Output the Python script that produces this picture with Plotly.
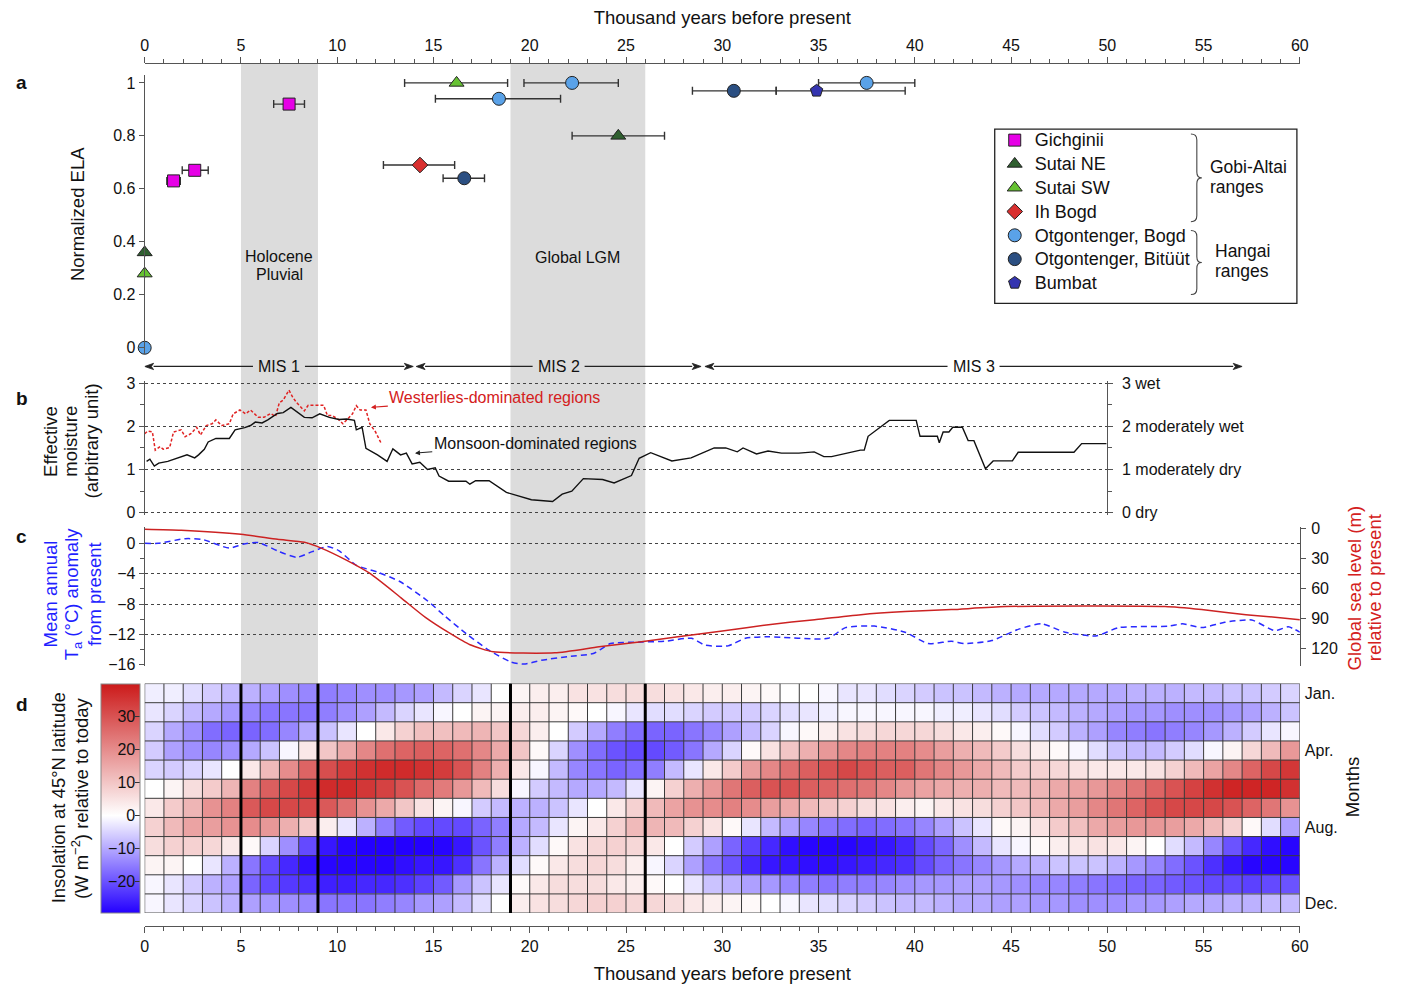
import plotly.graph_objects as go

W, H = 1401, 989
FONT = "Liberation Sans, Arial, sans-serif"


def fx(px):
    return px / W


def fy(py):
    return 1 - py / H


# ---------------- data ----------------
# Panel a: normalized ELA (x = kyr BP, y = normalized ELA, asymmetric x errors)
GICH_X = [1.5, 2.6, 7.5]
GICH_Y = [0.63, 0.67, 0.92]
GICH_EM = [0.35, 0.65, 0.8]
GICH_EP = [0.35, 0.7, 0.8]

SUTAI_NE_X = [0, 24.6]
SUTAI_NE_Y = [0.36, 0.80]
SUTAI_NE_EM = [0, 2.4]
SUTAI_NE_EP = [0, 2.4]

SUTAI_SW_X = [0, 16.2]
SUTAI_SW_Y = [0.28, 1.0]
SUTAI_SW_EM = [0, 2.7]
SUTAI_SW_EP = [0, 2.65]

IHBOGD_X = [14.3]
IHBOGD_Y = [0.69]
IHBOGD_EM = [1.9]
IHBOGD_EP = [1.8]

OTG_BOGD_X = [0, 18.4, 22.2, 37.5]
OTG_BOGD_Y = [0, 0.94, 1.0, 1.0]
OTG_BOGD_EM = [0, 3.3, 2.5, 2.5]
OTG_BOGD_EP = [0, 3.2, 2.4, 2.5]

OTG_BIT_X = [16.6, 30.6]
OTG_BIT_Y = [0.64, 0.97]
OTG_BIT_EM = [1.1, 2.15]
OTG_BIT_EP = [1.05, 2.2]

BUMBAT_X = [34.9]
BUMBAT_Y = [0.97]
BUMBAT_EM = [2.1]
BUMBAT_EP = [4.6]

# Panel b: effective moisture
MONSOON_KYR = [0.1, 0.27, 0.5, 0.73, 1.2, 1.9, 2.2, 2.6, 2.8, 3.1, 3.3, 3.7, 4.4, 4.7, 5.2, 5.5,
               5.75, 6.1, 6.4, 6.9, 7.2, 7.6, 7.85, 8.3, 8.7, 9.1, 9.6, 10.1, 10.5, 10.9, 11.0,
               11.3, 11.5, 12.1, 12.6, 12.9, 13.3, 13.6, 13.9, 14.3, 14.7, 15.1, 15.3, 15.8, 16.7,
               16.9, 17.2, 17.9, 18.8, 20.1, 21.2, 21.7, 22.2, 22.8, 23.8, 24.4, 25.3, 25.7, 26.3,
               27.4, 28.4, 29.6, 30.2, 30.8, 31.1, 31.8, 32.4, 33.1, 34.0, 34.8, 35.3, 35.7, 37.2,
               37.4, 37.6, 38.7, 40.1, 40.3, 41.2, 41.3, 41.5, 41.8, 42.0, 42.5, 42.8, 43.1, 43.7,
               44.1, 45.1, 45.4, 48.3, 48.7, 50.0]
MONSOON_EM = [1.19, 1.24, 1.08, 1.15, 1.19, 1.29, 1.34, 1.27, 1.34, 1.47, 1.64, 1.72, 1.72, 1.92,
              1.97, 2.02, 2.1, 2.08, 2.15, 2.3, 2.32, 2.44, 2.36, 2.21, 2.2, 2.29, 2.21, 2.16, 2.17,
              2.14, 1.92, 1.98, 1.49, 1.34, 1.19, 1.48, 1.34, 1.38, 1.13, 1.17, 1.0, 1.04, 0.85,
              0.73, 0.73, 0.66, 0.74, 0.74, 0.47, 0.3, 0.26, 0.43, 0.5, 0.79, 0.77, 0.69, 0.86,
              1.26, 1.39, 1.2, 1.27, 1.5, 1.5, 1.41, 1.5, 1.36, 1.43, 1.38, 1.38, 1.41, 1.3, 1.3,
              1.45, 1.45, 1.77, 2.14, 2.14, 1.77, 1.77, 1.62, 1.87, 1.87, 1.98, 1.98, 1.67, 1.67,
              1.02, 1.2, 1.2, 1.4, 1.4, 1.6, 1.6]

WEST_KYR = [0, 0.15, 0.4, 0.55, 0.8, 0.96, 1.3, 1.5, 1.9, 2.1, 2.4, 2.7, 2.9, 3.2, 3.5, 3.7, 4.0,
            4.4, 4.6, 4.95, 5.25, 5.5, 5.9, 6.2, 6.55, 6.8, 7.0, 7.2, 7.5, 7.7, 7.9, 8.3, 8.5, 9.3,
            9.5, 9.75, 10.1, 10.3, 10.5, 10.8, 11.0, 11.2, 11.5, 11.7, 12.0, 12.3]
WEST_EM = [1.83, 1.89, 1.87, 1.45, 1.53, 1.47, 1.51, 1.87, 1.92, 1.76, 1.83, 1.98, 1.8, 2.02, 2.06,
           2.15, 2.02, 2.06, 2.29, 2.38, 2.29, 2.38, 2.21, 2.21, 2.3, 2.23, 2.55, 2.61, 2.84, 2.67,
           2.55, 2.36, 2.49, 2.49, 2.25, 2.25, 2.15, 2.06, 2.15, 2.29, 2.48, 2.38, 2.38, 2.06, 1.87,
           1.6]

MOIST_TICKS = [0, 1, 2, 3]
MOIST_LABELS = ["0 dry", "1 moderately dry", "2 moderately wet", "3 wet"]

# Panel c: temperature anomaly and sea level
TEMP_KYR = [0, 0.7, 2.1, 3.0, 4.4, 5.1, 5.9, 6.9, 7.9, 8.7, 9.5, 10.1, 11.0, 12.1, 13.3, 14.7, 15.6,
            16.7, 17.9, 19.0, 19.7, 20.6, 22.0, 23.3, 24.2, 25.8, 27.0, 28.4, 29.1, 30.3, 31.2, 32.4,
            35.5, 36.4, 37.9, 39.5, 40.7, 41.9, 42.6, 44.0, 45.4, 46.6, 47.8, 49.4, 50.6, 53.2,
            53.9, 54.9, 56.1, 57.5, 58.7, 59.4, 60.0]
TEMP_ANOM = [0, 0, 0.6, 0.5, -0.64, -0.13, 0.09, -1.0, -1.85, -1.1, -0.43, -1.0, -2.9, -3.8, -5.1,
             -7.6, -9.6, -11.9, -14.1, -15.6, -15.9, -15.4, -14.9, -14.5, -13.2, -13.0, -12.9,
             -12.5, -13.4, -13.5, -12.5, -12.3, -12.5, -11.1, -10.9, -11.7, -13.2, -12.9, -13.2,
             -12.8, -11.3, -10.6, -11.7, -12.2, -11.1, -10.9, -10.6, -11.1, -10.4, -10.1, -11.5,
             -11.0, -11.7]

SEA_KYR = [0, 1.9, 5.0, 6.9, 8.3, 9.2, 10.5, 11.7, 13.3, 14.6, 15.8, 16.9, 18.1, 21.3, 23.6, 25.8,
           27.7, 30.1, 32.4, 34.8, 37.2, 39.5, 41.9, 44.7, 53.0, 54.9, 57.2, 60.0]
SEA_LEVEL = [1, 2, 6, 11, 14, 20, 32, 45, 69, 89, 104, 116, 123, 124, 118, 113, 108, 102, 96, 91,
             86, 83, 81, 78, 78, 81, 86, 91]

# Panel d: insolation anomaly at 45N (W m-2), one value per kyr bin (0-1, 1-2, ... 59-60)
INSOL_JAN = [-2, -2, -4, -6, -8, -9, -11, -13, -14, -15, -14, -13, -13, -12, -11,
             -8, -5, -3, 0, 2, 3, 3, 5, 5, 6, 6, 6, 5, 4, 3,
             3, 2, 1, 0, 0, -1, -3, -3, -4, -5, -6, -7, -7, -8, -9,
             -10, -10, -10, -10, -10, -10, -9, -9, -9, -8, -8, -7, -7, -6, -5]
INSOL_FEB = [-3, -5, -8, -10, -12, -14, -16, -16, -16, -15, -13, -11, -8, -5, -3,
             -1, 0, 2, 2, 3, 3, 2, 1, 0, -1, -3, -4, -4, -5, -6,
             -6, -6, -5, -4, -3, -2, -1, -1, -1, -1, -1, -2, -2, -3, -4,
             -6, -7, -8, -9, -10, -11, -12, -12, -13, -13, -13, -12, -11, -9, -7]
INSOL_MAR = [-5, -10, -13, -17, -18, -18, -17, -14, -10, -7, -3, 0, 4, 8, 11,
             11, 12, 13, 10, 7, 3, 0, -6, -10, -15, -17, -18, -18, -16, -14,
             -11, -8, -5, -1, 1, 3, 5, 6, 7, 7, 7, 6, 4, 3, 1,
             -1, -4, -6, -9, -11, -14, -15, -16, -15, -14, -12, -9, -6, -3, -1]
INSOL_APR = [-6, -11, -13, -14, -13, -10, -7, -1, 4, 10, 15, 21, 25, 27, 28,
             27, 25, 21, 15, 10, 1, -5, -13, -17, -20, -21, -21, -19, -16, -10,
             -5, 1, 5, 10, 14, 18, 21, 22, 22, 22, 20, 17, 14, 12, 9,
             6, 3, 1, -1, -4, -7, -8, -8, -6, -4, -1, 2, 7, 12, 18]
INSOL_MAY = [-5, -6, -5, -3, 0, 4, 12, 20, 27, 31, 34, 36, 37, 37, 36,
             34, 30, 22, 14, 4, -1, -8, -14, -16, -18, -17, -15, -8, -3, 4,
             9, 17, 21, 25, 28, 30, 32, 30, 28, 28, 24, 21, 18, 15, 12,
             9, 8, 7, 5, 4, 4, 4, 5, 8, 12, 16, 21, 27, 32, 35]
INSOL_JUN = [0, 2, 6, 9, 13, 22, 28, 32, 35, 37, 37, 35, 33, 30, 26,
             23, 18, 12, 6, -1, -6, -8, -10, -10, -8, -3, 2, 8, 14, 18,
             24, 28, 30, 30, 28, 27, 25, 24, 21, 18, 16, 15, 14, 14, 12,
             12, 13, 15, 16, 18, 21, 24, 27, 30, 33, 36, 38, 38, 38, 36]
INSOL_JUL = [4, 9, 13, 19, 22, 29, 32, 32, 32, 29, 25, 19, 15, 10, 5,
             2, -1, -6, -8, -9, -9, -7, -3, 0, 4, 8, 12, 16, 19, 20,
             22, 20, 17, 15, 12, 10, 8, 6, 5, 3, 2, 4, 5, 6, 8,
             10, 12, 15, 17, 21, 24, 27, 30, 32, 32, 32, 30, 27, 24, 19]
INSOL_AUG = [8, 12, 16, 17, 19, 20, 18, 14, 9, 3, -3, -9, -15, -19, -21,
             -21, -21, -18, -15, -10, -8, -3, 2, 4, 8, 12, 13, 12, 8, 5,
             1, -3, -8, -11, -14, -16, -17, -18, -17, -16, -14, -11, -7, -3, 1,
             2, 5, 9, 11, 15, 17, 18, 18, 17, 15, 12, 8, 1, -4, -11]
INSOL_SEP = [6, 8, 8, 7, 4, 1, -5, -13, -21, -27, -29, -30, -30, -30, -30,
             -29, -27, -20, -15, -9, -4, 1, 5, 7, 8, 7, 4, 0, -6, -11,
             -18, -22, -25, -28, -29, -29, -29, -28, -27, -25, -21, -18, -13, -8, -3,
             -1, 1, 3, 4, 5, 4, 2, 0, -4, -8, -14, -20, -25, -28, -29]
INSOL_OCT = [2, 2, 0, -3, -9, -16, -21, -25, -28, -29, -29, -29, -29, -28, -27,
             -27, -24, -16, -9, -4, 1, 4, 6, 7, 6, 3, -1, -5, -11, -16,
             -20, -25, -27, -27, -28, -28, -27, -26, -25, -24, -21, -18, -16, -14, -12,
             -10, -9, -7, -7, -7, -9, -12, -14, -17, -20, -24, -27, -29, -29, -29]
INSOL_NOV = [-1, -3, -6, -9, -11, -18, -21, -23, -24, -26, -26, -25, -25, -24, -22,
             -19, -12, -7, -3, 1, 4, 6, 6, 6, 4, 3, 1, 0, -3, -7,
             -9, -11, -12, -14, -15, -16, -15, -15, -14, -13, -12, -12, -11, -11, -12,
             -13, -14, -14, -15, -16, -17, -18, -18, -19, -20, -21, -21, -22, -21, -20]
INSOL_DEC = [-1, -3, -5, -7, -9, -11, -12, -13, -14, -16, -16, -16, -15, -14, -12,
             -11, -8, -4, 0, 3, 5, 6, 7, 8, 8, 7, 7, 6, 4, 3,
             2, 1, 0, -1, -3, -4, -5, -6, -7, -8, -8, -9, -10, -10, -11,
             -11, -12, -12, -13, -13, -13, -12, -12, -11, -10, -10, -9, -9, -8, -8]
MONTH_TICKS = [0, 3, 7, 11]
MONTH_LABELS = ["Jan.", "Apr.", "Aug.", "Dec."]
CBAR_TICKS = [-20, -10, 0, 10, 20, 30]

# Periods
BANDS = [(5, 9), (19, 26)]          # Holocene Pluvial, Global LGM
PERIOD_BOUNDS = [5, 9, 19, 26]
MIS_NAMES = ["MIS 1", "MIS 2", "MIS 3"]
MIS_START = [0, 14.1, 29.1]
MIS_END = [13.95, 28.9, 57.0]

# ---------------- figure ----------------
fig = go.Figure()

err_style = dict(type="data", symmetric=False, color="#333333", thickness=1.4, width=4)
LEG_FS = 18


def ela_trace(name, xs, ys, em, ep, symbol, color, size=13):
    return go.Scatter(
        x=xs, y=ys, name=f'<span style="font-size:{LEG_FS}px">{name}</span>',
        mode="markers", xaxis="x", yaxis="y",
        marker=dict(symbol=symbol, size=size, color=color, line=dict(color="#222222", width=1)),
        error_x=dict(array=ep, arrayminus=em, **err_style),
        cliponaxis=False, hoverinfo="skip",
    )


fig.add_trace(ela_trace("Gichginii", GICH_X, GICH_Y, GICH_EM, GICH_EP, "square", "#e600e6", 12))
fig.add_trace(ela_trace("Sutai NE", SUTAI_NE_X, SUTAI_NE_Y, SUTAI_NE_EM, SUTAI_NE_EP, "triangle-up", "#2f5f2f"))
fig.add_trace(ela_trace("Sutai SW", SUTAI_SW_X, SUTAI_SW_Y, SUTAI_SW_EM, SUTAI_SW_EP, "triangle-up", "#66c232"))
fig.add_trace(ela_trace("Ih Bogd", IHBOGD_X, IHBOGD_Y, IHBOGD_EM, IHBOGD_EP, "diamond", "#d93030", 12))
fig.add_trace(ela_trace("Otgontenger, Bogd", OTG_BOGD_X, OTG_BOGD_Y, OTG_BOGD_EM, OTG_BOGD_EP, "circle", "#5aa2e8"))
fig.add_trace(ela_trace("Otgontenger, Bitüüt", OTG_BIT_X, OTG_BIT_Y, OTG_BIT_EM, OTG_BIT_EP, "circle", "#2b4f82"))
fig.add_trace(ela_trace("Bumbat", BUMBAT_X, BUMBAT_Y, BUMBAT_EM, BUMBAT_EP, "pentagon", "#3434b0"))

# Panel b
fig.add_trace(go.Scatter(x=WEST_KYR, y=WEST_EM, mode="lines", xaxis="x2", yaxis="y2",
                         line=dict(color="#e02222", width=1.5, dash="3px,2px"),
                         showlegend=False, hoverinfo="skip"))
fig.add_trace(go.Scatter(x=MONSOON_KYR, y=MONSOON_EM, mode="lines", xaxis="x2", yaxis="y3",
                         line=dict(color="#111111", width=1.4), showlegend=False, hoverinfo="skip"))

# Panel c
fig.add_trace(go.Scatter(x=SEA_KYR, y=SEA_LEVEL, mode="lines", xaxis="x3", yaxis="y5",
                         line=dict(color="#cc2222", width=1.5, shape="spline", smoothing=0.6),
                         showlegend=False, hoverinfo="skip"))
fig.add_trace(go.Scatter(x=TEMP_KYR, y=TEMP_ANOM, mode="lines", xaxis="x3", yaxis="y4",
                         line=dict(color="#2a2aff", width=1.5, dash="6px,4px", shape="spline", smoothing=0.6),
                         showlegend=False, hoverinfo="skip"))

# Panel d heatmap
Z = [INSOL_JAN, INSOL_FEB, INSOL_MAR, INSOL_APR, INSOL_MAY, INSOL_JUN,
     INSOL_JUL, INSOL_AUG, INSOL_SEP, INSOL_OCT, INSOL_NOV, INSOL_DEC]
ZMIN, ZMAX = -29.6, 40
zero_frac = -ZMIN / (ZMAX - ZMIN)
CB_TOP, CB_BOT, CB_LEFT, CB_W = 687, 920, 98, 38.5
fig.add_trace(go.Heatmap(
    z=Z, x0=0.5, dx=1, y0=0, dy=1, xaxis="x4", yaxis="y6",
    zmin=ZMIN, zmax=ZMAX,
    colorscale=[[0, "#2400ff"], [zero_frac, "#ffffff"], [1, "#cc1a1a"]],
    showscale=True, hoverinfo="skip",
    colorbar=dict(x=fx(CB_LEFT), xanchor="left", xpad=0, ypad=0,
                  y=fy((CB_TOP + CB_BOT) / 2), yanchor="middle", len=(CB_BOT - CB_TOP) / H,
                  lenmode="fraction", thickness=CB_W, thicknessmode="pixels",
                  tickvals=CBAR_TICKS, ticks="inside", ticklen=5,
                  tickcolor="#333333", ticklabelposition="inside",
                  tickfont=dict(size=16, color="#111111", family=FONT),
                  outlinewidth=1, outlinecolor="#888888"),
))

# cell borders
n_cols = len(INSOL_JAN)
n_rows = len(Z)
gx, gy = [], []
for i in range(n_cols + 1):
    gx += [i, i, None]
    gy += [-0.5, n_rows - 0.5, None]
for j in range(n_rows + 1):
    gx += [0, n_cols, None]
    gy += [j - 0.5, j - 0.5, None]
fig.add_trace(go.Scatter(x=gx, y=gy, mode="lines", xaxis="x4", yaxis="y6",
                         line=dict(color="#3a3a3a", width=1), showlegend=False,
                         hoverinfo="skip", cliponaxis=False))
bx, by = [], []
for b in PERIOD_BOUNDS:
    bx += [b, b, None]
    by += [-0.5, n_rows - 0.5, None]
fig.add_trace(go.Scatter(x=bx, y=by, mode="lines", xaxis="x4", yaxis="y6",
                         line=dict(color="#000000", width=3), showlegend=False,
                         hoverinfo="skip", cliponaxis=False))

# ---------------- layout ----------------
XDOM = [fx(142), fx(1308)]
AXC = "#555555"
tickfont = dict(size=16, color="#111111", family=FONT)
TITLE_FS = 18.5

common_y = dict(showline=True, linecolor=AXC, linewidth=1.2, ticks="outside", ticklen=5,
                tickcolor=AXC, zeroline=False, tickfont=tickfont)

fig.update_layout(
    width=W, height=H, margin=dict(l=0, r=0, t=0, b=0),
    paper_bgcolor="white", plot_bgcolor="rgba(0,0,0,0)",
    font=dict(family=FONT, color="#111111"),
    showlegend=True,
    legend=dict(x=fx(1000), y=fy(118), xanchor="left", yanchor="top",
                bgcolor="rgba(0,0,0,0)", borderwidth=0,
                font=dict(size=16, family=FONT, color="#111111"),
                tracegroupgap=0, itemclick=False),
    xaxis=dict(domain=XDOM, range=[0, 60], anchor="free", position=fy(57), side="top",
               showline=True, linecolor=AXC, linewidth=1.2, ticks="outside", ticklen=6,
               tickcolor=AXC, dtick=5, tick0=0, tickfont=tickfont, showgrid=False, zeroline=False,
               minor=dict(dtick=1, ticks="outside", ticklen=4, tickcolor=AXC),
               title=dict(text="Thousand years before present", font=dict(size=TITLE_FS), standoff=6)),
    yaxis=dict(domain=[fy(352), fy(69)], range=[-0.0223, 1.03], anchor="x",
               tickvals=[0, 0.2, 0.4, 0.6, 0.8, 1], ticktext=["0", "0.2", "0.4", "0.6", "0.8", "1"],
               showgrid=False, **common_y),
    xaxis2=dict(domain=[fx(142), fx(1113)], range=[0, 50], anchor="y2", showline=False,
                showticklabels=False, ticks="", showgrid=False, zeroline=False),
    yaxis2=dict(domain=[fy(516.1), fy(379.4)], range=[-0.06, 3.06], anchor="x2",
                tickvals=MOIST_TICKS, showgrid=True, gridcolor="#444444", griddash="dot",
                gridwidth=1, minor=dict(tickvals=[0.5, 1.5, 2.5], ticks="outside", ticklen=4,
                                        tickcolor=AXC), **common_y),
    yaxis3=dict(overlaying="y2", side="right", anchor="x2", range=[-0.06, 3.06],
                tickvals=MOIST_TICKS, ticktext=MOIST_LABELS, showgrid=False,
                ticklabelstandoff=6,
                minor=dict(tickvals=[0.5, 1.5, 2.5], ticks="outside", ticklen=4, tickcolor=AXC),
                **common_y),
    xaxis3=dict(domain=XDOM, range=[0, 60], anchor="y4", showline=False,
                showticklabels=False, ticks="", showgrid=False, zeroline=False),
    yaxis4=dict(domain=[fy(669), fy(528)], range=[-16.13, 2.14], anchor="x3",
                tickvals=[0, -4, -8, -12, -16], showgrid=True, gridcolor="#444444",
                griddash="dot", gridwidth=1,
                minor=dict(tickvals=[-2, -6, -10, -14], ticks="outside", ticklen=4, tickcolor=AXC),
                **common_y),
    yaxis5=dict(overlaying="y4", side="right", anchor="x3", range=[137, -1.27],
                tickvals=[0, 30, 60, 90, 120], showgrid=False, ticklabelstandoff=2, **common_y),
    xaxis4=dict(domain=XDOM, range=[0, 60], anchor="free", position=fy(933), side="bottom",
                showline=True, linecolor=AXC, linewidth=1.2,
                ticks="outside", ticklen=6, tickcolor=AXC, dtick=5, tick0=0, tickfont=tickfont,
                showgrid=False, zeroline=False,
                minor=dict(dtick=1, ticks="outside", ticklen=4, tickcolor=AXC),
                title=dict(text="Thousand years before present", font=dict(size=TITLE_FS), standoff=12)),
    yaxis6=dict(domain=[fy(920), fy(687)], range=[n_rows - 0.5, -0.5], anchor="x4", side="right",
                tickvals=MONTH_TICKS, ticktext=MONTH_LABELS, ticks="", showline=False,
                showgrid=False, zeroline=False, tickfont=tickfont, ticklabelstandoff=4),
)

shapes = []
for (b0, b1) in BANDS:
    shapes.append(dict(type="rect", xref="x", yref="paper", x0=b0, x1=b1, y0=fy(687), y1=fy(58),
                       fillcolor="#dcdcdc", line=dict(width=0), layer="below"))
# legend frame
shapes.append(dict(type="rect", xref="paper", yref="paper", x0=fx(1000), x1=fx(1305),
                   y0=fy(301), y1=fy(124), line=dict(color="#222222", width=1.3),
                   fillcolor="rgba(0,0,0,0)"))

# colour-bar ticks on the left edge (mirroring the inside ticks on the right)
for v in CBAR_TICKS:
    py = CB_BOT - (v - ZMIN) / (ZMAX - ZMIN) * (CB_BOT - CB_TOP)
    shapes.append(dict(type="line", xref="paper", yref="paper", x0=fx(CB_LEFT), x1=fx(CB_LEFT + 5),
                       y0=fy(py), y1=fy(py), line=dict(color="#333333", width=1)))


def brace(xl, ytop, ybot):
    xm = xl + 6
    ym = (ytop + ybot) / 2
    pts = [
        f"M {fx(xl)},{fy(ytop)}",
        f"Q {fx(xm)},{fy(ytop)} {fx(xm)},{fy(ytop + 6)}",
        f"L {fx(xm)},{fy(ym - 6)}",
        f"Q {fx(xm)},{fy(ym)} {fx(xm + 5)},{fy(ym)}",
        f"Q {fx(xm)},{fy(ym)} {fx(xm)},{fy(ym + 6)}",
        f"L {fx(xm)},{fy(ybot - 6)}",
        f"Q {fx(xm)},{fy(ybot)} {fx(xl)},{fy(ybot)}",
    ]
    return dict(type="path", xref="paper", yref="paper", path=" ".join(pts),
                line=dict(color="#444444", width=1.1))


shapes.append(brace(1198, 129, 218))
shapes.append(brace(1198, 227, 292))

# MIS double arrows (lines + filled heads)
MIS_Y = fy(365)
KYR_PER_PX = 60 / (1308 - 142)
HEAD_L = 9 * KYR_PER_PX
HEAD_H = 3.2 / H
for s, e in zip(MIS_START, MIS_END):
    c = (s + e) / 2
    for head, tail in [(s, c - 1.35), (e, c + 1.35)]:
        d = 1 if head > tail else -1
        base = head - d * HEAD_L
        shapes.append(dict(type="line", xref="x", yref="paper", x0=tail, x1=base,
                           y0=MIS_Y, y1=MIS_Y, line=dict(color="#222222", width=1.2)))
        shapes.append(dict(type="path", xref="x", yref="paper",
                           path=f"M {head},{MIS_Y} L {base},{MIS_Y + HEAD_H} "
                                f"L {base + d * HEAD_L * 0.25},{MIS_Y} L {base},{MIS_Y - HEAD_H} Z",
                           fillcolor="#222222", line=dict(color="#222222", width=0.8)))
fig.update_layout(shapes=shapes)

ann = []


def txt(text, x, y, size=16, color="#111111", xref="paper", yref="paper", angle=0,
        xanchor="center", yanchor="middle", align="center", bold=False):
    if bold:
        text = f"<b>{text}</b>"
    ann.append(dict(text=text, x=x, y=y, xref=xref, yref=yref, showarrow=False,
                    textangle=angle, xanchor=xanchor, yanchor=yanchor, align=align,
                    font=dict(size=size, color=color, family=FONT)))


for letter, py in [("a", 77), ("b", 398), ("c", 538), ("d", 708)]:
    txt(letter, fx(18), fy(py), size=19, bold=True)

# rotated axis titles, one annotation per line
txt("Normalized ELA", fx(75), fy(210), size=TITLE_FS, angle=-90)
for line, px in [("Effective", 47), ("moisture", 67), ("(arbitrary unit)", 88)]:
    txt(line, fx(px), fy(441), size=TITLE_FS, angle=-90)
BLUE = "#1f1fff"
for line, px in [("Mean annual", 47), ("T<sub>a</sub> (°C) anomaly", 70), ("from present", 92)]:
    txt(line, fx(px), fy(596), size=TITLE_FS, color=BLUE, angle=-90)
RED = "#d42020"
for line, px in [("Global sea level (m)", 1363), ("relative to present", 1383)]:
    txt(line, fx(px), fy(590), size=TITLE_FS, color=RED, angle=-90)
for line, px in [("Insolation at 45°N latitude", 55), ("(W m<sup>−2</sup>) relative to today", 77)]:
    txt(line, fx(px), fy(803), size=TITLE_FS, angle=-90)
txt("Months", fx(1362), fy(792), size=TITLE_FS, angle=-90)

txt("Holocene", 7.0, fy(253), xref="x", size=16)
txt("Pluvial", 7.0, fy(272), xref="x", size=16)
txt("Global LGM", 22.5, fy(254), xref="x", size=16)
GRP_FS = 17.5
txt("Gobi-Altai", fx(1215), fy(162), size=GRP_FS, xanchor="left", align="left")
txt("ranges", fx(1215), fy(182.5), size=GRP_FS, xanchor="left", align="left")
txt("Hangai", fx(1220), fy(248), size=GRP_FS, xanchor="left", align="left")
txt("ranges", fx(1220), fy(268.5), size=GRP_FS, xanchor="left", align="left")

for name, s, e in zip(MIS_NAMES, MIS_START, MIS_END):
    txt(name, (s + e) / 2, MIS_Y, xref="x", size=16)

# panel b labels with leader arrows
ann.append(dict(text="Westerlies-dominated regions", x=11.76, y=2.44, xref="x2", yref="y2",
                ax=18.2, ay=2.66, axref="x2", ayref="y2", showarrow=True, arrowhead=2,
                arrowsize=0.9, arrowwidth=1.1, arrowcolor=RED,
                font=dict(size=16, color=RED, family=FONT)))
ann.append(dict(text="Monsoon-dominated regions", x=14.05, y=1.38, xref="x2", yref="y2",
                ax=20.3, ay=1.61, axref="x2", ayref="y2", showarrow=True, arrowhead=2,
                arrowsize=0.9, arrowwidth=1.1, arrowcolor="#222222",
                font=dict(size=16, color="#111111", family=FONT)))

fig.update_layout(annotations=ann)

fig.write_html("out.html")
